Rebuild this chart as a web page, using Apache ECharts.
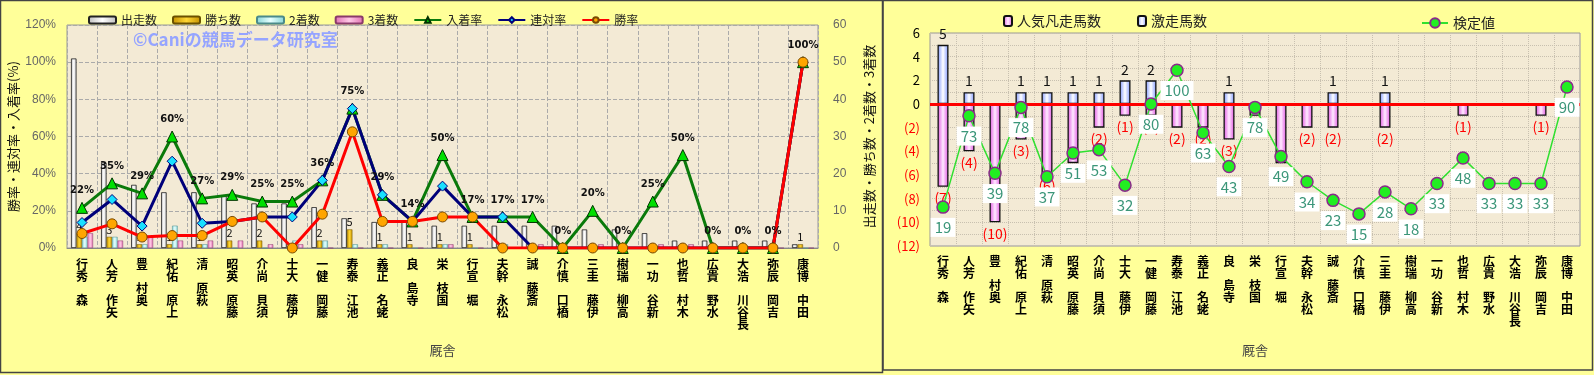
<!DOCTYPE html>
<html><head><meta charset="utf-8">
<script src="https://cdn.jsdelivr.net/npm/echarts@6/dist/echarts.min.js"></script>
<style>html,body{margin:0;padding:0;background:#ffff99;} #c{width:1594px;height:375px;}</style>
</head><body><div id="c"></div>
<script>
const categories = ['森 秀行','矢作 芳人','奥村 豊','上原 佑紀','萩原 清','藤原 英昭','須貝 尚介','伊藤 大士','藤岡 健一','池江 泰寿','蛯名 正義','寺島 良','国枝 栄','堀 宣行','松永 幹夫','斎藤 誠','橋口 慎介','伊藤 圭三','高柳 瑞樹','新谷 功一','木村 哲也','水野 貴広','長谷川 浩大','吉岡 辰弥','田中 博康'];
// left chart counts
const starts  = [51,23,17,15,15,14,12,12,11,8,7,7,6,6,6,6,6,5,5,4,2,2,2,2,1];
const wins    = [4,3,1,1,1,2,2,0,2,5,1,1,1,1,0,0,0,0,0,0,0,0,0,0,1];
const seconds = [3,3,1,6,1,0,0,2,2,1,1,0,1,0,1,0,0,0,0,0,0,0,0,0,0];
const thirds  = [4,2,3,2,2,2,1,1,0,0,0,0,1,0,0,1,0,1,0,1,1,0,0,0,0];
// left chart rates (%)
const placeRate = [21.6,34.8,29.4,60,26.7,28.6,25,25,36.4,75,28.6,14.3,50,16.7,16.7,16.7,0,20,0,25,50,0,0,0,100];
const quinRate  = [13.7,26.1,11.8,46.7,13.3,14.3,16.7,16.7,36.4,75,28.6,14.3,33.3,16.7,16.7,0,0,0,0,0,0,0,0,0,100];
const winRate   = [7.8,13.0,5.9,6.7,6.7,14.3,16.7,0,18.2,62.5,14.3,14.3,16.7,16.7,0,0,0,0,0,0,0,0,0,0,100];
// right chart
const gekisou = [5,1,0,1,1,1,1,2,2,0,0,1,0,0,0,1,0,1,0,0,0,0,0,0,0];
const bonsou  = [-7,-4,-10,-3,-6,-5,-2,-1,-1,-2,-2,-3,-1,-5,-2,-2,0,-2,0,0,-1,0,0,-1,0];
const kentei  = [19,73,39,78,37,51,53,32,80,100,63,43,78,49,34,23,15,28,18,33,48,33,33,33,90];

const JP = '"Noto Sans CJK JP", sans-serif';
function vert(s){ return s.split('').reverse().join('\n'); }
function hgrad(a,b){ return new echarts.graphic.LinearGradient(0,0,1,0,[{offset:0,color:a},{offset:0.5,color:b},{offset:1,color:a}]); }

const chart = echarts.init(document.getElementById('c'), null, {renderer:'canvas'});
const catLabel = {interval:0, formatter: vert, fontSize:12, lineHeight:12, color:'#000', fontWeight:'bold', fontFamily:JP, margin:10};

const option = {
  animation:false,
  textStyle:{fontFamily:JP},
  graphic:[
    {type:'rect', shape:{x:0.5,y:0.5,width:882,height:372}, style:{fill:'none',stroke:'#444',lineWidth:1.5}, z:-1},
    {type:'rect', shape:{x:883,y:0.5,width:709.5,height:369.5}, style:{fill:'none',stroke:'#444',lineWidth:1.5}, z:-1},
    {type:'text', left:133, top:31, z:100, style:{text:'©Caniの競馬データ研究室', fill:'#95a4ff', font:'bold 17px "Noto Sans CJK JP"'}}
  ],
  legend:[
    {left:83, top:9, itemWidth:27, itemHeight:7, itemGap:15, textStyle:{fontSize:12,color:'#222'},
     data:['出走数','勝ち数','2着数','3着数','入着率','連対率','勝率']},
    {left:998, top:9, itemWidth:8, itemHeight:10, itemGap:36, textStyle:{fontSize:14,color:'#222'},
     data:['人気凡走馬数','激走馬数']},
    {left:1416, top:11, itemWidth:26, itemHeight:12, textStyle:{fontSize:14,color:'#222'}, data:['検定値']}
  ],
  grid:[
    {left:67, top:25, width:751, height:223, show:true, backgroundColor:'#f3ead5', borderColor:'#999', borderWidth:1},
    {left:930, top:33, width:650, height:213, show:true, backgroundColor:'#f3ead5', borderColor:'#999', borderWidth:1}
  ],
  xAxis:[
    {type:'category', gridIndex:0, data:categories, axisTick:{show:false}, axisLine:{lineStyle:{color:'#888'}},
     axisLabel:catLabel, splitLine:{show:true, interval:0, lineStyle:{color:'#aaa', type:'dashed'}},
     name:'厩舎', nameLocation:'middle', nameGap:96, nameTextStyle:{fontSize:13,color:'#444'}},
    {type:'category', gridIndex:1, data:categories, axisTick:{show:false}, axisLine:{show:false, onZero:false},
     axisLabel:Object.assign({}, catLabel, {margin:9}), splitLine:{show:true, interval:0, lineStyle:{color:'#c8c0b0', type:'dotted'}},
     name:'厩舎', nameLocation:'middle', nameGap:98, nameTextStyle:{fontSize:13,color:'#444'}}
  ],
  yAxis:[
    {type:'value', gridIndex:0, min:0, max:120, interval:20, axisLine:{show:false}, axisTick:{show:false},
     axisLabel:{formatter:'{value}%', color:'#666', fontSize:12, margin:11, fontFamily:'"Liberation Sans", Arial'},
     splitLine:{lineStyle:{color:'#aaa', type:'dashed'}},
     name:'勝率・連対率・入着率(%)', nameLocation:'middle', nameRotate:90, nameGap:47, nameTextStyle:{fontSize:13,color:'#111'}},
    {type:'value', gridIndex:0, position:'right', min:0, max:60, interval:10, axisLine:{show:false}, axisTick:{show:false},
     axisLabel:{color:'#666', fontSize:12, margin:15, fontFamily:'"Liberation Sans", Arial'}, splitLine:{show:false},
     name:'出走数・勝ち数・2着数・3着数', nameLocation:'middle', nameRotate:90, nameGap:45, nameTextStyle:{fontSize:13,color:'#111'}},
    {type:'value', gridIndex:1, min:-12, max:6, interval:2, axisLine:{show:false}, axisTick:{show:false},
     axisLabel:{formatter:v=>v<0?'('+(-v)+')':String(v), color:v=>Number(v)<0?'#ff0000':'#000', fontSize:13, margin:10},
     splitLine:{lineStyle:{color:'#c8c0b0', type:'dotted'}},
     minorTick:{show:false, splitNumber:2}, minorSplitLine:{show:true, lineStyle:{color:'#c8c0b0', type:'dotted'}}},
    {type:'value', gridIndex:1, min:-4, max:122, show:false, splitLine:{show:false}}
  ],
  series:[
    {name:'出走数', type:'bar', xAxisIndex:0, yAxisIndex:1, data:starts, barWidth:5.5, barGap:'0%',
     itemStyle:{color:hgrad('#bdbdbd','#ffffff'), borderColor:'#222', borderWidth:0.8}},
    {name:'勝ち数', type:'bar', xAxisIndex:0, yAxisIndex:1, data:wins, barWidth:5.5, barGap:'0%',
     itemStyle:{color:hgrad('#c49000','#ffd633'), borderColor:'#6a5000', borderWidth:0.5},
     label:{show:true, position:'top', distance:2, fontSize:11, color:'#111', formatter:p=>p.value>0?String(p.value):''}},
    {name:'2着数', type:'bar', xAxisIndex:0, yAxisIndex:1, data:seconds, barWidth:5.5, barGap:'0%',
     itemStyle:{color:hgrad('#86d4d4','#e6ffff'), borderColor:'#4a8a8a', borderWidth:0.5}},
    {name:'3着数', type:'bar', xAxisIndex:0, yAxisIndex:1, data:thirds, barWidth:5.5, barGap:'0%',
     itemStyle:{color:hgrad('#e070b0','#ffc8e6'), borderColor:'#8a3a6a', borderWidth:0.5}},
    {name:'入着率', type:'line', xAxisIndex:0, yAxisIndex:0, data:placeRate, symbol:'triangle', symbolSize:11,
     lineStyle:{color:'#0a7a0a', width:3}, itemStyle:{color:'#00e000', borderColor:'#003300', borderWidth:1},
     label:{show:true, position:'top', distance:6, fontSize:10, fontWeight:'bold', color:'#111', fontFamily:'"DejaVu Sans"', formatter:p=>Math.round(p.value)+'%'}},
    {name:'連対率', type:'line', xAxisIndex:0, yAxisIndex:0, data:quinRate, symbol:'diamond', symbolSize:10,
     lineStyle:{color:'#00007a', width:3}, itemStyle:{color:'#19e0ff', borderColor:'#00007a', borderWidth:1}},
    {name:'勝率', type:'line', xAxisIndex:0, yAxisIndex:0, data:winRate, symbol:'circle', symbolSize:10,
     lineStyle:{color:'#ff0000', width:3}, itemStyle:{color:'#ffa500', borderColor:'#7a4a00', borderWidth:1}},

    {name:'人気凡走馬数', type:'bar', xAxisIndex:1, yAxisIndex:2, data:bonsou, barWidth:11, barGap:'-100%',
     itemStyle:{color:hgrad('#e050e0','#ffeaff'), borderColor:'#111', borderWidth:1.3},
     label:{show:true, position:'bottom', distance:4, fontSize:14, color:'#ff0000', formatter:p=>p.value<0?'('+(-p.value)+')':''},
     markLine:{silent:true, symbol:'none', label:{show:false}, lineStyle:{color:'#ff0000', width:3, type:'solid'}, data:[{yAxis:0}]}},
    {name:'激走馬数', type:'bar', xAxisIndex:1, yAxisIndex:2, data:gekisou, barWidth:11, barGap:'-100%',
     itemStyle:{color:hgrad('#7d94ff','#ffffff'), borderColor:'#111', borderWidth:1.3},
     label:{show:true, position:'top', distance:4, fontSize:14, color:'#111', formatter:p=>p.value>0?String(p.value):''}},
    {name:'検定値', type:'line', xAxisIndex:1, yAxisIndex:3, data:kentei, symbol:'circle', symbolSize:12, z:5,
     lineStyle:{color:'#2fe02f', width:1.5}, itemStyle:{color:'#22ee22', borderColor:'#8a2a8a', borderWidth:1.5},
     label:{show:true, position:'bottom', distance:4, fontSize:15, color:'#3b9679', backgroundColor:'#ffffff', padding:[2,4]}}
  ]
};
chart.setOption(option);
</script></body></html>
